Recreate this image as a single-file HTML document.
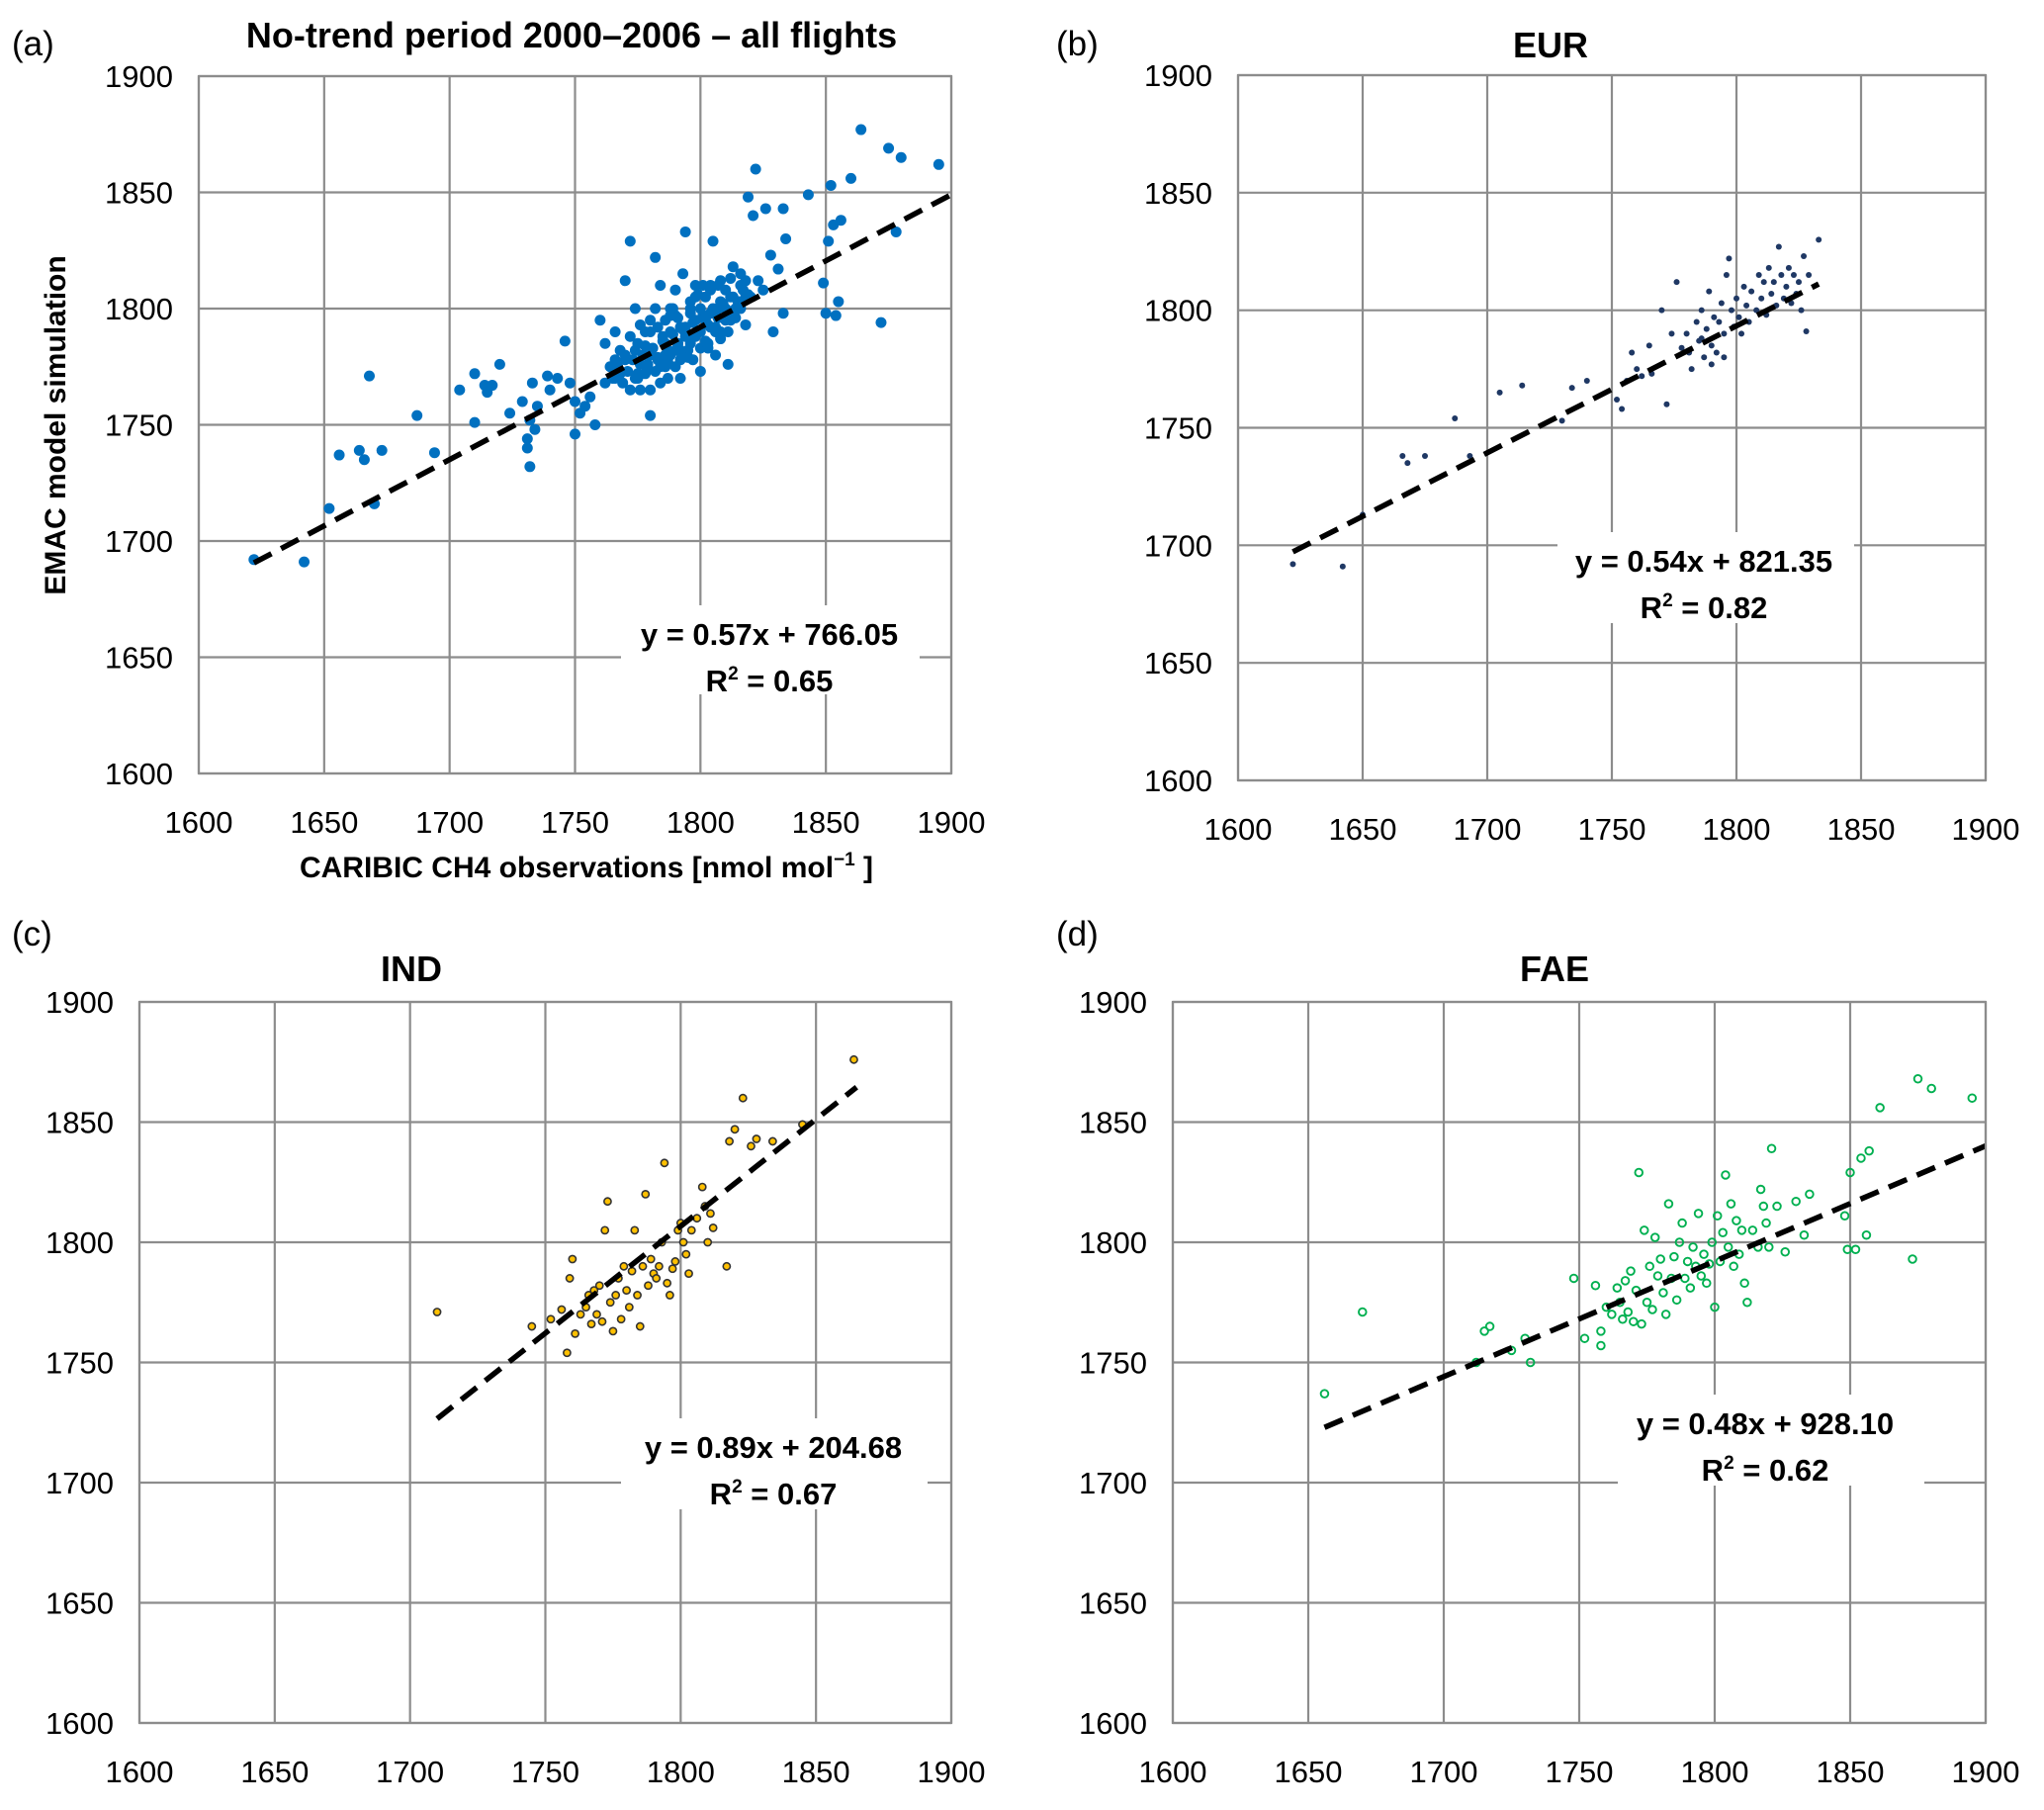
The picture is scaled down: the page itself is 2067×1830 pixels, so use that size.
<!DOCTYPE html>
<html><head><meta charset="utf-8"><style>
html,body{margin:0;padding:0;background:#fff;}
svg{display:block;font-family:"Liberation Sans",Calibri,sans-serif;}
</style></head><body>
<svg id="fig" width="2067" height="1830" viewBox="0 0 2067 1830" xmlns="http://www.w3.org/2000/svg"></svg>
<script>
const ticks = [1600,1650,1700,1750,1800,1850,1900];
const tickLabels = ["1600","1650","1700","1750","1800","1850","1900"];
const aX = [1622,1642,1652,1656,1664,1666,1668,1670,1673,1687,1694,1704,1710,1710,1714,1715,1717,1720,1724,1729,1731,1731,1732,1732,1733,1734,1735,1739,1740,1743,1746,1748,1750,1750,1752,1754,1756,1758,1760,1762,1764,1766,1768,1770,1772,1774,1775,1776,1778,1780,1780,1782,1783,1785,1786,1787,1788,1789,1790,1791,1792,1793,1794,1795,1796,1797,1798,1799,1800,1800,1801,1802,1803,1804,1805,1806,1807,1808,1810,1811,1812,1813,1815,1816,1818,1819,1820,1821,1822,1823,1825,1826,1828,1829,1831,1833,1833,1834,1843,1849,1850,1851,1852,1853,1854,1855,1856,1860,1864,1872,1875,1878,1880,1895,1775,1778,1780,1782,1784,1786,1788,1790,1792,1794,1796,1798,1800,1802,1804,1806,1808,1810,1812,1814,1816,1818,1770,1766,1762,1772,1776,1784,1790,1796,1802,1808,1786,1780,1774,1768,1788,1792,1798,1804,
1765,1767,1769,1771,1773,1775,1777,1779,1781,1783,1785,1787,1789,1791,1793,1795,1797,1799,1801,1803,1805,1807,1809,1811,1813,1815,1817,1819,1766,1770,1774,1778,1782,1786,1790,1794,1798,1802,1806,1810,1814,1818,1772,1776,1780,1784,1788,1792,1796,1800,1804,1808,1812,1816,1779,1783,1787,1791,1795,1799,1803,1807,1811,1815];
const aY = [1692,1691,1714,1737,1739,1735,1771,1716,1739,1754,1738,1765,1772,1751,1767,1764,1767,1776,1755,1760,1744,1740,1732,1752,1768,1748,1758,1771,1765,1770,1786,1768,1746,1760,1755,1758,1762,1750,1795,1768,1775,1790,1782,1812,1829,1800,1770,1776,1784,1790,1754,1822,1778,1788,1795,1770,1780,1800,1775,1785,1792,1815,1833,1782,1798,1778,1805,1790,1800,1773,1810,1795,1785,1808,1829,1790,1800,1812,1795,1776,1805,1818,1800,1810,1793,1848,1805,1840,1860,1812,1808,1843,1823,1790,1817,1843,1798,1830,1849,1811,1798,1829,1853,1836,1797,1803,1838,1856,1877,1794,1869,1833,1865,1862,1785,1772,1765,1800,1768,1780,1790,1808,1770,1788,1785,1795,1790,1805,1798,1780,1803,1808,1795,1800,1815,1805,1778,1770,1785,1765,1793,1810,1797,1803,1786,1790,1775,1780,1782,1772,1800,1782,1810,1792,
1770,1775,1768,1773,1778,1772,1780,1776,1783,1779,1786,1782,1789,1785,1791,1788,1794,1790,1797,1793,1800,1796,1802,1799,1805,1803,1808,1806,1778,1780,1770,1790,1773,1785,1782,1792,1788,1796,1792,1800,1796,1812,1788,1765,1795,1775,1797,1778,1800,1783,1810,1787,1813,1800,1774,1792,1777,1796,1779,1806,1783,1810,1790,1803];
const bX = [1622,1642,1650,1666,1668,1675,1687,1693,1705,1714,1730,1734,1740,1752,1754,1756,1758,1760,1762,1765,1766,1770,1772,1774,1776,1778,1780,1781,1782,1784,1785,1786,1787,1788,1789,1790,1791,1792,1793,1794,1795,1796,1797,1798,1799,1800,1801,1802,1803,1804,1805,1806,1808,1809,1810,1811,1812,1813,1814,1815,1816,1817,1818,1819,1820,1821,1822,1823,1824,1825,1826,1827,1828,1829,1833,1795,1790,1786];
const bY = [1692,1691,1713,1738,1735,1738,1754,1738,1765,1768,1753,1767,1770,1762,1758,1770,1782,1775,1772,1785,1773,1800,1760,1790,1812,1784,1790,1782,1775,1795,1787,1800,1780,1792,1808,1785,1797,1782,1795,1803,1790,1815,1822,1800,1793,1805,1797,1790,1810,1802,1795,1808,1800,1815,1805,1812,1798,1818,1807,1812,1802,1827,1815,1805,1810,1818,1803,1815,1807,1812,1800,1823,1791,1815,1830,1780,1777,1788];
const cX = [1710,1745,1752,1756,1758,1759,1760,1761,1763,1765,1766,1767,1768,1769,1770,1771,1772,1773,1774,1775,1776,1777,1778,1779,1780,1781,1782,1783,1784,1785,1786,1787,1788,1789,1790,1791,1792,1793,1794,1795,1796,1797,1798,1799,1800,1801,1802,1803,1804,1806,1808,1809,1810,1811,1812,1817,1818,1820,1823,1826,1828,1834,1845,1864];
const cY = [1771,1765,1768,1772,1754,1785,1793,1762,1770,1773,1778,1766,1780,1770,1782,1767,1805,1817,1775,1763,1778,1785,1768,1790,1780,1773,1788,1805,1778,1765,1790,1820,1782,1793,1787,1785,1790,1800,1833,1783,1778,1789,1792,1805,1808,1800,1795,1787,1805,1810,1823,1815,1800,1812,1806,1790,1842,1847,1860,1840,1843,1842,1849,1876];
const dX = [1656,1670,1712,1715,1717,1725,1730,1732,1748,1752,1756,1758,1758,1760,1762,1764,1765,1766,1767,1768,1769,1770,1771,1772,1773,1774,1775,1776,1777,1778,1779,1780,1781,1782,1783,1784,1785,1786,1787,1788,1789,1790,1791,1792,1793,1794,1795,1796,1797,1798,1799,1800,1801,1802,1803,1804,1805,1806,1807,1808,1809,1810,1811,1812,1814,1816,1817,1818,1819,1820,1821,1823,1826,1830,1833,1835,1848,1849,1850,1852,1854,1856,1857,1861,1873,1875,1880,1895];
const dY = [1737,1771,1750,1763,1765,1755,1760,1750,1785,1760,1782,1757,1763,1773,1770,1781,1775,1768,1784,1771,1788,1767,1780,1829,1766,1805,1775,1790,1772,1802,1786,1793,1779,1770,1816,1785,1794,1776,1800,1808,1785,1792,1781,1798,1790,1812,1786,1795,1783,1791,1800,1773,1811,1792,1804,1828,1798,1816,1790,1809,1795,1805,1783,1775,1805,1798,1822,1815,1808,1798,1839,1815,1796,1817,1803,1820,1811,1797,1829,1797,1835,1803,1838,1856,1793,1868,1864,1860];
const slopes = [0.57,0.54,0.89,0.48];
const intercepts = [766.05,821.35,204.68,928.10];
const fitRanges = [[1622,1900],[1622,1833],[1710,1865],[1656,1900]];
const eqTexts = ["y = 0.57x + 766.05","y = 0.54x + 821.35","y = 0.89x + 204.68","y = 0.48x + 928.10"];
const r2Texts = ["0.65","0.82","0.67","0.62"];

const NS="http://www.w3.org/2000/svg";
const fig=document.getElementById('fig');
function mk(tag,attrs,parent){const e=document.createElementNS(NS,tag);for(const k in attrs)e.setAttribute(k,attrs[k]);(parent||fig).appendChild(e);return e;}

const panels=[
 {id:'a',L:201,R:962,T:77,B:782,label:'(a)',lx:12,ly:56,title:'No-trend period 2000\u20132006 \u2013 all flights',tx:578,ty:48,xs:aX,ys:aY,style:'blue',eq:[778,641],box:[628,612,302,90]},
 {id:'b',L:1252,R:2008,T:76,B:789,label:'(b)',lx:1068,ly:56,title:'EUR',tx:1568,ty:58,xs:bX,ys:bY,style:'navy',eq:[1723,567],box:[1575,538,300,92]},
 {id:'c',L:141,R:962,T:1013,B:1742,label:'(c)',lx:12,ly:956,title:'IND',tx:416,ty:992,xs:cX,ys:cY,style:'orange',eq:[782,1463],box:[628,1434,310,92]},
 {id:'d',L:1186,R:2008,T:1013,B:1742,label:'(d)',lx:1068,ly:956,title:'FAE',tx:1572,ty:992,xs:dX,ys:dY,style:'green',eq:[1785,1439],box:[1636,1410,310,92]}
];

panels.forEach((p,i)=>{
 const g=mk('g',{});
 
 
 const sx=v=>p.L+(v-1600)/300*(p.R-p.L);
 const sy=v=>p.B-(v-1600)/300*(p.B-p.T);
 ticks.forEach((t,k)=>{
  const gx=mk('line',{x1:sx(t),x2:sx(t),y1:p.T,y2:p.B,stroke:'#8c8c8c','stroke-width':2.2},g);
  
  
  const gy=mk('line',{x1:p.L,x2:p.R,y1:sy(t),y2:sy(t),stroke:'#8c8c8c','stroke-width':2.2},g);
  
  
  const xl=mk('text',{x:sx(t),y:p.B+60,'text-anchor':'middle','font-size':31,fill:'#000'},g);
  xl.textContent=tickLabels[k];
  
  
  const yl=mk('text',{x:p.L-26,y:sy(t)+11,'text-anchor':'end','font-size':31,fill:'#000'},g);
  yl.textContent=tickLabels[k];
  
  
 });
 p.xs.forEach((xv,k)=>{
  let c;
  if(p.style==='blue') c=mk('circle',{cx:sx(xv),cy:sy(p.ys[k]),r:5.5,fill:'#0070c0'},g);
  else if(p.style==='navy') c=mk('circle',{cx:sx(xv),cy:sy(p.ys[k]),r:3,fill:'#1f3864'},g);
  else if(p.style==='orange') c=mk('circle',{cx:sx(xv),cy:sy(p.ys[k]),r:3.6,fill:'#ffc000',stroke:'#333','stroke-width':1.6},g);
  else c=mk('circle',{cx:sx(xv),cy:sy(p.ys[k]),r:3.8,fill:'none',stroke:'#00b050','stroke-width':1.9},g);
  
  
 });
 const [x0,x1]=fitRanges[i];
 const tl=mk('line',{x1:sx(x0),y1:sy(slopes[i]*x0+intercepts[i]),x2:sx(x1),y2:sy(slopes[i]*x1+intercepts[i]),stroke:'#000','stroke-width':5.5,'stroke-dasharray':'20 11'},g);
 
 
 const bd=mk('rect',{x:p.L,y:p.T,width:p.R-p.L,height:p.B-p.T,fill:'none',stroke:'#8c8c8c','stroke-width':2.2},g);
 
 
 const bx=mk('rect',{x:p.box[0],y:p.box[1],width:p.box[2],height:p.box[3],fill:'#fff'},g);
 
 
 const eq=mk('text',{x:p.eq[0],y:p.eq[1]+11,'text-anchor':'middle','font-size':31,'font-weight':'bold'},g);
 eq.textContent=eqTexts[i];
 
 
 const r2=mk('text',{x:p.eq[0],y:p.eq[1]+58,'text-anchor':'middle','font-size':31,'font-weight':'bold'},g);
 r2.innerHTML='R<tspan dy="-12" font-size="19">2</tspan><tspan dy="12"> = '+r2Texts[i]+'</tspan>';
 
 
 const lb=mk('text',{x:p.lx,y:p.ly,'font-size':35},g);
 lb.textContent=p.label;
 
 
 const tt=mk('text',{x:p.tx,y:p.ty,'text-anchor':'middle','font-size':36,'font-weight':'bold'},g);
 tt.textContent=p.title;
 
 
});
const yt=mk('text',{x:0,y:0,'text-anchor':'middle','font-size':30,'font-weight':'bold',transform:'translate(66,430) rotate(-90)'});
yt.textContent='EMAC model simulation';


const xt=mk('text',{x:593,y:887,'text-anchor':'middle','font-size':30,'font-weight':'bold'});
xt.innerHTML='CARIBIC CH4 observations [nmol  mol<tspan dy="-12" font-size="19">\u22121</tspan><tspan dy="12"> ]</tspan>';


</script>
</body></html>
